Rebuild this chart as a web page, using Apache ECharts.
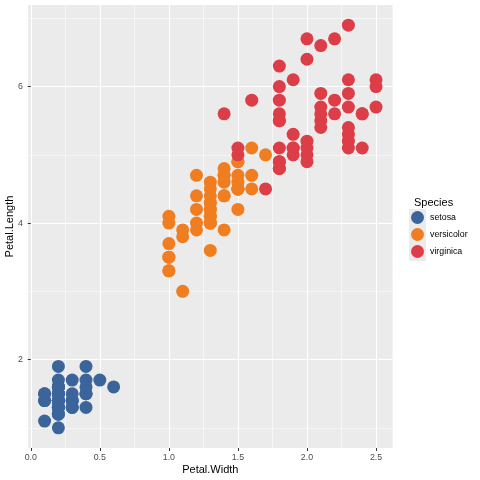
<!DOCTYPE html>
<html><head><meta charset="utf-8">
<script src="https://cdn.jsdelivr.net/npm/echarts@6/dist/echarts.min.js"></script>
<style>html,body{margin:0;padding:0;background:#fff}#c{width:480px;height:480px}</style>
</head><body><div id="c"></div>
<script>
const speciesNames = ['setosa', 'versicolor', 'virginica'];
const setosaWidth = [0.2,0.2,0.2,0.2,0.2,0.4,0.3,0.2,0.2,0.1,0.2,0.2,0.1,0.1,0.2,0.4,0.4,0.3,0.3,0.3,0.2,0.4,0.2,0.5,0.2,0.2,0.4,0.2,0.2,0.2,0.2,0.4,0.1,0.2,0.2,0.2,0.2,0.1,0.2,0.2,0.3,0.3,0.2,0.6,0.4,0.3,0.2,0.2,0.2,0.2];
const setosaLength = [1.4,1.4,1.3,1.5,1.4,1.7,1.4,1.5,1.4,1.5,1.5,1.6,1.4,1.1,1.2,1.5,1.3,1.4,1.7,1.5,1.7,1.5,1.0,1.7,1.9,1.6,1.6,1.5,1.4,1.6,1.6,1.5,1.5,1.4,1.5,1.2,1.3,1.4,1.3,1.5,1.3,1.3,1.3,1.6,1.9,1.4,1.6,1.4,1.5,1.4];
const versicolorWidth = [1.4,1.5,1.5,1.3,1.5,1.3,1.6,1.0,1.3,1.4,1.0,1.5,1.0,1.4,1.3,1.4,1.5,1.0,1.5,1.1,1.8,1.3,1.5,1.2,1.3,1.4,1.4,1.7,1.5,1.0,1.1,1.0,1.2,1.6,1.5,1.6,1.5,1.3,1.3,1.3,1.2,1.4,1.2,1.0,1.3,1.2,1.3,1.3,1.1,1.3];
const versicolorLength = [4.7,4.5,4.9,4.0,4.6,4.5,4.7,3.3,4.6,3.9,3.5,4.2,4.0,4.7,3.6,4.4,4.5,4.1,4.5,3.9,4.8,4.0,4.9,4.7,4.3,4.4,4.8,5.0,4.5,3.5,3.8,3.7,3.9,5.1,4.5,4.5,4.7,4.4,4.1,4.0,4.4,4.6,4.0,3.3,4.2,4.2,4.2,4.3,3.0,4.1];
const virginicaWidth = [2.5,1.9,2.1,1.8,2.2,2.1,1.7,1.8,1.8,2.5,2.0,1.9,2.1,2.0,2.4,2.3,1.8,2.2,2.3,1.5,2.3,2.0,2.0,1.8,2.1,1.8,1.8,1.8,2.1,1.6,1.9,2.0,2.2,1.5,1.4,2.3,2.4,1.8,1.8,2.1,2.4,2.3,1.9,2.3,2.5,2.3,1.9,2.0,2.3,1.8];
const virginicaLength = [6.0,5.1,5.9,5.6,5.8,6.6,4.5,6.3,5.8,6.1,5.1,5.3,5.5,5.0,5.1,5.3,5.5,6.7,6.9,5.0,5.7,4.9,6.7,4.9,5.7,6.0,4.8,4.9,5.6,5.8,6.1,6.4,5.6,5.1,5.6,6.1,5.6,5.5,4.8,5.4,5.6,5.1,5.1,5.9,5.7,5.2,5.0,5.2,5.4,5.1];
const speciesColors = ['#3B659A', '#F07E21', '#DC3D46'];
const xMajorTicks = [0, 0.5, 1, 1.5, 2, 2.5];
const xMinorTicks = [0.25, 0.75, 1.25, 1.75, 2.25];
const yMajorTicks = [2, 4, 6];
const yMinorTicks = [1, 3, 5, 7];

const widths = [setosaWidth, versicolorWidth, virginicaWidth];
const lengths = [setosaLength, versicolorLength, virginicaLength];
const xRange = [-0.02, 2.62];
const yRange = [0.705, 7.195];

const chart = echarts.init(document.getElementById('c'), null, {renderer: 'canvas'});
const font = 'Liberation Sans, Arial, Helvetica, sans-serif';
const series = speciesNames.map((name, i) => ({
  name: name,
  type: 'scatter',
  symbol: 'circle',
  symbolSize: 13,
  xAxisIndex: 1,
  yAxisIndex: 1,
  itemStyle: {color: speciesColors[i], opacity: 1},
  emphasis: {disabled: true},
  data: widths[i].map((w, j) => [w, lengths[i][j]])
}));

function minorAxis(range, ticks, pos) {
  return {
    type: 'value', min: range[0], max: range[1], gridIndex: 0, position: pos,
    axisLine: {show: false},
    axisTick: {show: false, customValues: ticks},
    axisLabel: {show: false, customValues: ticks},
    splitLine: {show: true, lineStyle: {color: '#fff', width: 0.55}}
  };
}

chart.setOption({
  animation: false,
  textStyle: {fontFamily: font},
  grid: {left: 28, right: 87.4, top: 5, bottom: 32, show: true, backgroundColor: '#EBEBEB', borderWidth: 0, outerBoundsMode: 'none', containLabel: false},
  title: {text: 'Species', left: 409, top: 192, textStyle: {fontSize: 11, fontWeight: 'normal', color: '#000', fontFamily: font}},
  graphic: [{type: 'rect', left: 409, top: 209, shape: {width: 17, height: 52}, style: {fill: '#EBEBEB'}, z: 0}],
  legend: {
    orient: 'vertical', left: 411, top: 211, itemWidth: 13, itemHeight: 13, itemGap: 4,
    icon: 'circle', padding: 0,
    textStyle: {fontSize: 8.8, color: '#000', fontFamily: font, padding: [0, 0, 0, 1]},
    data: speciesNames
  },
  xAxis: [minorAxis(xRange, xMinorTicks, 'bottom'), {
    type: 'value', min: xRange[0], max: xRange[1], gridIndex: 0, position: 'bottom',
    name: 'Petal.Width', nameLocation: 'middle', nameGap: 16, nameMoveOverlap: false,
    nameTextStyle: {fontSize: 11, color: '#000', verticalAlign: 'top'},
    axisLine: {show: false},
    axisTick: {show: true, length: 3, customValues: xMajorTicks, lineStyle: {color: '#333'}},
    axisLabel: {fontSize: 8.8, color: '#4D4D4D', margin: 5, customValues: xMajorTicks,
      formatter: v => v.toFixed(1)},
    splitLine: {show: true, lineStyle: {color: '#fff', width: 1.1}}
  }],
  yAxis: [minorAxis(yRange, yMinorTicks, 'left'), {
    type: 'value', min: yRange[0], max: yRange[1], gridIndex: 0, position: 'left',
    name: 'Petal.Length', nameLocation: 'middle', nameGap: 13, nameMoveOverlap: false,
    nameTextStyle: {fontSize: 11, color: '#000'},
    axisLine: {show: false},
    axisTick: {show: true, length: 3, customValues: yMajorTicks, lineStyle: {color: '#333'}},
    axisLabel: {fontSize: 8.8, color: '#4D4D4D', margin: 5, customValues: yMajorTicks},
    splitLine: {show: true, lineStyle: {color: '#fff', width: 1.1}}
  }],
  series: series
});
</script></body></html>
